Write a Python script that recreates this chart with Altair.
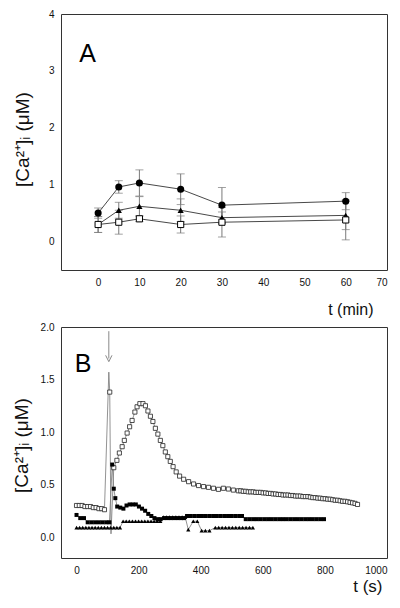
import altair as alt
import pandas as pd

FONT = "Liberation Sans"

# ---------------- Panel A data ----------------
tA = [0, 5, 10, 20, 30, 60]
circ_v = [0.50, 0.96, 1.03, 0.92, 0.64, 0.71]
circ_e = [0.09, 0.11, 0.23, 0.27, 0.31, 0.15]
tri_v = [0.30, 0.55, 0.62, 0.55, 0.42, 0.46]
tri_e = [0.14, 0.14, 0.17, 0.20, 0.10, 0.25]
sq_v = [0.30, 0.34, 0.40, 0.30, 0.34, 0.38]
sq_e = [0.14, 0.21, 0.05, 0.15, 0.26, 0.35]

A_x_ticks = [0, 10, 20, 30, 40, 50, 60, 70]
A_y_ticks = [0, 1, 2, 3, 4]
A_label = {"t": -4.6, "v": 3.15, "text": "A"}

# ---------------- Panel B data ----------------
# open squares (markers)
open_t = [0, 9, 18, 27, 36, 45, 54, 63, 72, 81, 90,
          107,
          120, 130, 138, 147, 154, 163, 171, 179, 188, 195, 204, 214, 222, 230,
          238, 246, 254, 262, 270, 278, 286, 294, 302, 311, 321, 332, 345, 361,
          377, 393, 409, 425, 441, 457, 473, 489, 505, 521,
          529, 537, 545, 553, 561, 569, 577, 585, 593, 601, 609, 617, 625, 633,
          641, 649, 657, 665, 673, 681, 689, 697, 705, 713, 721, 729, 737, 745,
          753, 761, 769, 777, 785, 793, 801, 809, 817, 825, 833, 841, 849, 857,
          865, 873, 881, 889, 897, 905]
open_v = [0.30, 0.30, 0.30, 0.29, 0.29, 0.29, 0.28, 0.28, 0.27, 0.27, 0.26,
          1.38,
          0.66, 0.73, 0.80, 0.86, 0.92, 0.99, 1.05, 1.11, 1.19, 1.24, 1.27, 1.27, 1.25, 1.20,
          1.15, 1.10, 1.035, 0.98, 0.92, 0.87, 0.81, 0.765, 0.72, 0.67, 0.62, 0.58, 0.55, 0.527,
          0.505, 0.49, 0.48, 0.473, 0.464, 0.454, 0.464, 0.457, 0.447, 0.44,
          0.44, 0.435, 0.435, 0.43, 0.43, 0.43, 0.425, 0.425, 0.425, 0.42, 0.42, 0.415, 0.415, 0.41,
          0.41, 0.405, 0.405, 0.40, 0.40, 0.40, 0.395, 0.395, 0.39, 0.39, 0.39, 0.385, 0.385, 0.385,
          0.38, 0.375, 0.375, 0.37, 0.37, 0.365, 0.365, 0.36, 0.36, 0.355, 0.35, 0.35, 0.345, 0.34,
          0.34, 0.335, 0.33, 0.325, 0.32, 0.31]
# line-only vertices of the open-square trace (the spike)
open_spike_t = [104, 111]
open_spike_v = [1.57, 0.03]

# filled squares
fsq_t = [0, 12, 24, 36, 48, 60, 72, 84, 96, 106,
         115, 120, 125, 131, 141, 151, 161, 171, 181, 191, 201, 211, 221, 231,
         241, 251, 261, 271, 282, 293, 304, 315, 326, 337, 346,
         356, 368, 380, 392, 404, 416, 428, 440, 452, 464, 476, 488, 500, 512, 524, 533,
         545, 557, 569, 581, 593, 605, 617, 629, 641, 653, 665, 677, 689, 701, 713, 725,
         737, 749, 761, 773, 785, 797]
fsq_v = [0.21, 0.18, 0.18, 0.14, 0.14, 0.14, 0.14, 0.14, 0.14, 0.14,
         0.69, 0.46, 0.37, 0.29, 0.28, 0.27, 0.30, 0.31, 0.31, 0.31, 0.29, 0.27, 0.25, 0.22,
         0.20, 0.18, 0.17, 0.17, 0.18, 0.18, 0.18, 0.18, 0.18, 0.18, 0.18,
         0.20, 0.20, 0.20, 0.20, 0.20, 0.20, 0.20, 0.20, 0.20, 0.20, 0.20, 0.20, 0.20, 0.20, 0.20, 0.20,
         0.17, 0.17, 0.17, 0.17, 0.17, 0.17, 0.17, 0.17, 0.17, 0.17, 0.17, 0.17, 0.17, 0.17, 0.17, 0.17,
         0.17, 0.17, 0.17, 0.17, 0.17, 0.17]

# triangles
btri_t = [0, 10, 20, 30, 40, 50, 60, 70, 80, 90, 100, 110, 120, 130, 140,
          150, 160, 170, 180, 190, 200, 210, 220, 230, 240, 250, 260, 270,
          280, 290, 300, 310, 320, 330, 340, 350,
          360, 376, 389, 403, 415, 428,
          447, 458, 469, 480, 491, 502, 513, 524, 535, 546, 557, 568]
btri_v = [0.09] * 15 + [0.15] * 13 + [0.19] * 8 + \
         [0.07, 0.15, 0.15, 0.06, 0.06, 0.06] + [0.09] * 12

B_x_ticks = [0, 200, 400, 600, 800, 1000]
B_y_ticks = [0.0, 0.5, 1.0, 1.5, 2.0]
B_label = {"t": -6, "v": 1.57, "text": "B"}
arrow = {"t": 104, "top": 1.96, "tip": 1.70}

# ---------------- helpers ----------------
LINE_A = "#333333"
ERR = "#7a7a7a"
LINE_B = "#777777"

AX = dict(domain=False, ticks=False, grid=False, labelFont=FONT, titleFont=FONT,
          labelFontSize=10, labelColor="#111", titleColor="#111", labelPadding=7,
          titleFontWeight="normal")


def xA():
    return alt.X("t:Q", scale=alt.Scale(domain=[-9, 70], nice=False, zero=False),
                 axis=alt.Axis(values=A_x_ticks, title="t (min)", titleX=312, titleY=44,
                               titleAlign="right", titleBaseline="alphabetic",
                               titleFontSize=16, **AX))


def yA(field="v"):
    return alt.Y(f"{field}:Q", scale=alt.Scale(domain=[-0.5, 4], nice=False, zero=False),
                 axis=alt.Axis(values=A_y_ticks, title="[Ca²⁺]ᵢ (μM)", titleX=-39, titleY=125,
                               titleAngle=-90, titleAlign="center", titleBaseline="middle",
                               titleFontSize=19, **AX))


def xB():
    return alt.X("t:Q", scale=alt.Scale(domain=[-50, 1000], nice=False, zero=False),
                 axis=alt.Axis(values=B_x_ticks, format="d", title="t (s)", titleX=321, titleY=33,
                               titleAlign="right", titleBaseline="alphabetic",
                               titleFontSize=17, **AX))


def yB(field="v"):
    return alt.Y(f"{field}:Q", scale=alt.Scale(domain=[-0.2, 2.0], nice=False, zero=False),
                 axis=alt.Axis(values=B_y_ticks, format=".1f", title="[Ca²⁺]ᵢ  (μM)",
                               titleX=-40, titleY=118, titleAngle=-90, titleAlign="center",
                               titleBaseline="middle", titleFontSize=19, **AX))


# ---------------- Panel A ----------------
rowsA = []
for name, vals, errs in [("circ", circ_v, circ_e), ("tri", tri_v, tri_e), ("sq", sq_v, sq_e)]:
    for t, v, e in zip(tA, vals, errs):
        rowsA.append({"series": name, "t": t, "v": v, "lo": v - e, "hi": v + e})
dfA = pd.DataFrame(rowsA)

baseA = alt.Chart(dfA)
err_rule = baseA.mark_rule(color=ERR, strokeWidth=1).encode(x=xA(), y=yA("lo"), y2="hi")
cap_lo = baseA.mark_tick(color=ERR, orient="horizontal", size=8, thickness=1).encode(x=xA(), y=yA("lo"))
cap_hi = baseA.mark_tick(color=ERR, orient="horizontal", size=8, thickness=1).encode(x=xA(), y=yA("hi"))
linesA = baseA.mark_line(color=LINE_A, strokeWidth=0.9).encode(x=xA(), y=yA(), detail="series:N")
pts_circ = baseA.transform_filter(alt.datum.series == "circ").mark_point(
    shape="circle", filled=True, color="black", size=50, opacity=1).encode(x=xA(), y=yA())
pts_tri = baseA.transform_filter(alt.datum.series == "tri").mark_point(
    shape="triangle-up", filled=True, color="black", size=38, opacity=1).encode(x=xA(), y=yA())
pts_sq = baseA.transform_filter(alt.datum.series == "sq").mark_point(
    shape="square", filled=True, fill="white", stroke="black", strokeWidth=1, size=38,
    opacity=1).encode(x=xA(), y=yA())
labA = alt.Chart(pd.DataFrame([A_label])).mark_text(
    fontSize=25, align="left", baseline="alphabetic", font=FONT, color="black"
).encode(x=xA(), y=yA(), text="text:N")

panelA = alt.layer(err_rule, cap_lo, cap_hi, linesA, pts_circ, pts_tri, pts_sq, labA).properties(
    width=326, height=256)

# ---------------- Panel B ----------------
df_open = pd.DataFrame({"t": open_t, "v": open_v})
df_open_line = pd.concat([df_open, pd.DataFrame({"t": open_spike_t, "v": open_spike_v})]).sort_values("t")
df_fsq = pd.DataFrame({"t": fsq_t, "v": fsq_v})
df_tri = pd.DataFrame({"t": btri_t, "v": btri_v})

open_line = alt.Chart(df_open_line).mark_line(color=LINE_B, strokeWidth=0.8).encode(
    x=xB(), y=yB(), order="t:Q")
fsq_line = alt.Chart(df_fsq).mark_line(color=LINE_B, strokeWidth=0.8).encode(x=xB(), y=yB())
tri_line = alt.Chart(df_tri).mark_line(color=LINE_B, strokeWidth=0.8).encode(x=xB(), y=yB())
open_pts = alt.Chart(df_open).mark_point(shape="square", filled=True, fill="white", stroke="#222",
                                         strokeWidth=0.8, size=17, opacity=1).encode(x=xB(), y=yB())
fsq_pts = alt.Chart(df_fsq).mark_point(shape="square", filled=True, color="black", size=16,
                                       opacity=1).encode(x=xB(), y=yB())
tri_pts = alt.Chart(df_tri).mark_point(shape="triangle-up", filled=True, color="black", size=18,
                                       opacity=1).encode(x=xB(), y=yB())
df_arrow = pd.DataFrame([arrow])
arrow_rule = alt.Chart(df_arrow).mark_rule(color="#888", strokeWidth=1).encode(
    x=xB(), y=yB("top"), y2="tip")
arrow_head = alt.Chart(df_arrow).mark_point(
    shape="M-1,-1L0,1L1,-1", filled=False, stroke="#888", strokeWidth=1, size=40, opacity=1
).encode(x=xB(), y=yB("tip"))
labB = alt.Chart(pd.DataFrame([B_label])).mark_text(
    fontSize=25, align="left", baseline="alphabetic", font=FONT, color="black"
).encode(x=xB(), y=yB(), text="text:N")

panelB = alt.layer(open_line, fsq_line, tri_line, open_pts, fsq_pts, tri_pts,
                   arrow_rule, arrow_head, labB).properties(width=326, height=231)

chart = alt.vconcat(panelA, panelB, spacing=3).properties(
    padding={"left": 3, "top": 0, "right": 0, "bottom": 0}
).configure(font=FONT, background="white").configure_view(
    stroke="#333", strokeWidth=1
).configure_axis(grid=False, domain=False, ticks=False)

chart.save("out.html", embed_options={"renderer": "svg", "actions": False})
